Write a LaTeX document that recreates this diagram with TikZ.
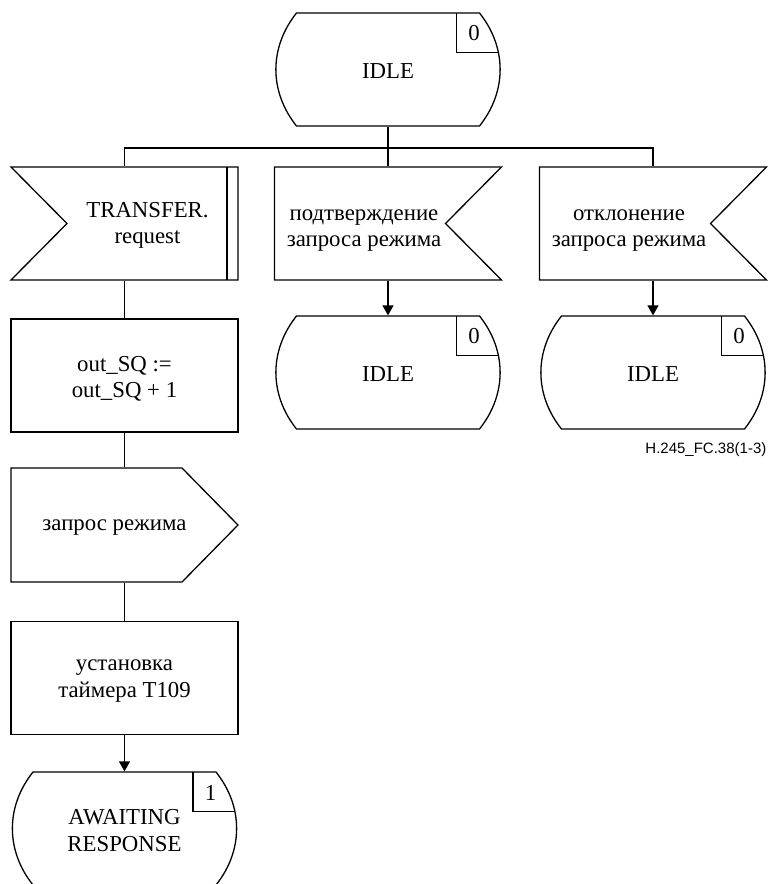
\documentclass[tikz,border=0pt]{standalone}
\usepackage{fontspec}
\setmainfont{Liberation Serif}
\newfontfamily\figsans{Liberation Sans}
\usetikzlibrary{arrows.meta}

\newcommand{\sdlfont}{\fontsize{11.4}{13.2}\selectfont}

% state: name, x, y, text, number
\newcommand{\statesym}[5]{
  \node[frame, minimum width=111.5pt] (#1) at (#2,#3) {};
  \begin{scope}[shift={(#2,#3)}]
    \path[draw, clip] (-91.5,-56.5) -- (91.5,-56.5)
      .. controls (119,-22) and (119,22) .. (91.5,56.5) -- (-91.5,56.5)
      .. controls (-119,22) and (-119,-22) .. (-91.5,-56.5) -- cycle;
    \draw (68.5,-60) rectangle (130,-17);
    \node[txt] (#1-t) at (0,2) {#4};
    \node[txt] (#1-n) at (86,-36) {#5};
  \end{scope}
}

% input with bar, notch on the left
\newcommand{\inputsym}[4]{
  \node[frame] (#1) at (#2,#3) {};
  \begin{scope}[shift={(#2,#3)}]
    \draw (-113.5,-56.5) -- (113.5,-56.5) -- (113.5,56.5) -- (-113.5,56.5)
      -- (-57.5,0) -- cycle;
    \draw (102.5,-56.5) -- (102.5,56.5);
    \node[txt] (#1-t) at (23,2) {#4};
  \end{scope}
}

% input, notch on the right
\newcommand{\inputrsym}[4]{
  \node[frame] (#1) at (#2,#3) {};
  \begin{scope}[shift={(#2,#3)}]
    \draw (-113.5,-56.5) -- (113.5,-56.5) -- (57.5,0) -- (113.5,56.5)
      -- (-113.5,56.5) -- cycle;
    \node[txt] (#1-t) at (-24,7) {#4};
  \end{scope}
}

% task
\newcommand{\tasksym}[4]{
  \node[frame] (#1) at (#2,#3) {};
  \begin{scope}[shift={(#2,#3)}]
    \draw (-113.5,-56.5) rectangle (113.5,56.5);
    \node[txt] (#1-t) at (0,3) {#4};
  \end{scope}
}

% output
\newcommand{\outputsym}[4]{
  \node[frame, minimum height=57pt] (#1) at (#2,#3) {};
  \begin{scope}[shift={(#2,#3)}]
    \draw (-113.5,-57) -- (57.5,-57) -- (113.5,0) -- (57.5,57)
      -- (-113.5,57) -- cycle;
    \node[txt] (#1-t) at (-10,2.5) {#4};
  \end{scope}
}

\begin{document}
\begin{tikzpicture}[x=0.5pt, y=-0.5pt, line width=0.65pt,
  frame/.style={inner sep=0pt, minimum width=113.5pt, minimum height=56.5pt},
  txt/.style={align=center, inner sep=0pt, font=\sdlfont},
  flow/.style={-{Triangle[width=5.5pt, length=5pt]}}]

  \useasboundingbox (0,0) rectangle (771,884);
  \clip (0,0) rectangle (771,884);

  % --- Start state ---
  \statesym{idle0}{388}{69.5}{IDLE}{0}

  % --- Inputs ---
  \coordinate (bus) at (388,148);
  \inputsym{transfer}{124.5}{223.5}{TRANSFER.\\request}
  \inputrsym{confirm}{388}{223.5}{подтверждение\\запроса режима}
  \inputrsym{reject}{653}{223.5}{отклонение\\запроса режима}

  % --- Left branch ---
  \tasksym{count}{124.5}{375.5}{out\_SQ :=\\out\_SQ + 1}
  \outputsym{modereq}{124.5}{525}{запрос режима}
  \tasksym{timer}{124.5}{678}{установка\\таймера T109}
  \statesym{await}{124.5}{828.5}{AWAITING\\RESPONSE}{1}

  % --- Next states ---
  \statesym{idle1}{388}{372.5}{IDLE}{0}
  \statesym{idle2}{653}{372.5}{IDLE}{0}

  % --- Connectors ---
  \draw (idle0.south) -- (bus);
  \draw (transfer.north) |- (bus) -| (reject.north);
  \draw (bus) -- (confirm.north);
  \draw (transfer.south) -- (count.north);
  \draw (count.south) -- (modereq.north);
  \draw (modereq.south) -- (timer.north);
  \draw[flow] (timer.south) -- (await.north);
  \draw[flow] (confirm.south) -- (idle1.north);
  \draw[flow] (reject.south) -- (idle2.north);

  \node[anchor=east, inner sep=0pt, font=\figsans\fontsize{7.5}{9}\selectfont]
    (figref) at (767,450) {H.245\_FC.38(1-3)};

\end{tikzpicture}
\end{document}
